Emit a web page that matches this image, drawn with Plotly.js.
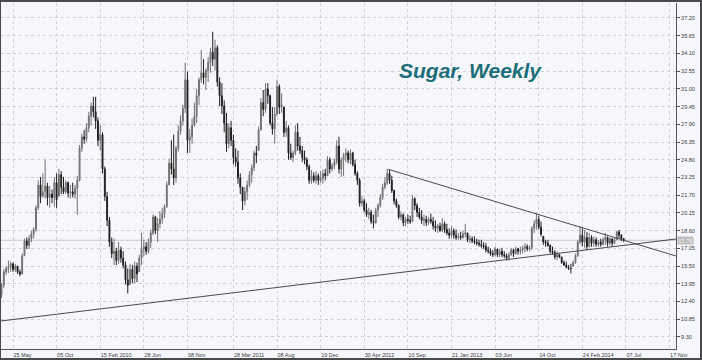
<!DOCTYPE html>
<html>
<head>
<meta charset="utf-8">
<script src="https://cdn.plot.ly/plotly-3.0.1.min.js"></script>
<style>
  html, body { margin: 0; padding: 0; background: #f6f7fd; }
  #frame { width: 699px; height: 356px; border-top: 2px solid #4a4a4a; border-bottom: 2px solid #4a4a4a; border-left: 1px solid #4a4a4a; border-right: 2px solid #4a4a4a; }
  #chart { width: 699px; height: 356px; }
</style>
</head>
<body>
<div id="frame"><div id="chart"></div></div>
<script>
// Weekly sugar prices, first bar = week of 20 Apr 2009, one bar per week
const firstWeek = '2009-04-20';

const open = [
  13.0, 13.8, 15.0, 15.3, 15.4, 15.7, 15.2, 15.5, 15.0, 14.8,
  16.4, 17.7, 17.3, 17.9, 18.3, 18.7, 20.6, 22.6, 21.6, 22.0,
  22.5, 21.5, 21.8, 21.5, 22.8, 21.6, 23.5, 22.4, 22.0, 22.8,
  21.9, 22.0, 21.8, 22.3, 23.0, 25.8, 26.8, 26.6, 27.6, 28.6,
  29.5, 29.0, 28.2, 26.5, 27.0, 24.0, 21.6, 19.5, 17.6, 16.6,
  16.8, 16.0, 16.9, 16.2, 15.6, 14.3, 13.9, 15.2, 14.4, 15.5,
  15.0, 16.2, 17.0, 17.2, 16.8, 17.6, 18.4, 19.8, 18.6, 19.2,
  19.6, 20.1, 20.7, 22.6, 24.5, 24.0, 23.2, 25.8, 27.3, 28.2,
  29.3, 31.8, 26.5, 26.8, 27.8, 28.6, 30.4, 31.8, 32.4, 32.0,
  32.6, 33.3, 34.2, 33.6, 34.6, 31.6, 30.4, 29.5, 28.0, 26.2,
  27.6, 26.5, 25.0, 24.6, 23.2, 22.4, 21.2, 22.0, 22.6, 23.5,
  24.1, 25.4, 25.6, 27.4, 29.8, 29.2, 31.0, 30.4, 28.0, 27.5,
  28.8, 31.2, 29.4, 29.4, 27.2, 27.6, 25.4, 25.0, 25.4, 27.2,
  26.0, 25.6, 25.0, 24.8, 24.2, 23.0, 23.4, 23.0, 23.4, 23.0,
  23.2, 23.6, 23.4, 24.8, 24.0, 24.3, 24.6, 26.0, 24.0, 24.8,
  25.2, 25.4, 24.8, 25.4, 24.4, 23.6, 23.0, 21.0, 21.2, 20.4,
  20.0, 20.2, 19.4, 19.3, 20.4, 20.8, 21.5, 22.4, 22.8, 23.6,
  23.0, 22.1, 21.2, 20.8, 19.8, 20.0, 19.3, 19.6, 19.5, 19.4,
  21.4, 20.8, 20.2, 19.8, 19.5, 19.6, 19.3, 19.6, 19.4, 19.0,
  18.8, 19.0, 18.6, 19.2, 18.7, 18.4, 18.2, 18.6, 18.2, 18.0,
  18.1, 18.0, 18.3, 18.4, 17.8, 17.9, 17.7, 17.6, 17.5, 17.4,
  17.3, 17.2, 16.9, 16.8, 16.6, 16.5, 17.0, 16.5, 16.8, 16.5,
  16.4, 16.2, 16.5, 16.9, 16.6, 17.0, 16.8, 16.9, 17.1, 17.2,
  17.0, 17.1, 18.8, 19.2, 19.6, 18.9, 18.1, 17.6, 17.5, 17.3,
  16.8, 16.7, 16.3, 16.5, 16.3, 15.8, 15.6, 15.4, 15.3, 15.5,
  15.8, 16.4, 17.6, 18.2, 17.6, 18.0, 17.2, 18.0, 17.5, 17.8,
  17.4, 17.6, 17.4, 17.8, 18.0, 17.5, 17.9, 17.5, 17.8, 18.5,
  18.2, 17.9
];

const high = [
  14.0, 15.2, 15.5, 16.0, 15.9, 15.8, 15.7, 15.5, 15.2, 16.6,
  17.9, 18.0, 18.2, 18.6, 18.9, 20.8, 23.0, 23.3, 23.6, 24.8,
  22.8, 22.5, 22.2, 23.3, 23.6, 24.0, 23.8, 23.3, 23.0, 22.9,
  22.6, 22.8, 22.6, 23.4, 26.1, 27.1, 27.4, 28.0, 29.0, 29.8,
  30.3, 30.3, 28.5, 27.8, 27.2, 24.2, 22.0, 19.8, 18.0, 17.9,
  17.1, 17.6, 17.2, 16.8, 15.9, 15.3, 15.7, 15.6, 15.9, 15.8,
  16.5, 18.4, 17.8, 17.6, 17.9, 18.7, 20.0, 19.9, 19.7, 20.3,
  20.6, 20.9, 22.9, 24.9, 26.5, 27.0, 26.0, 27.8, 28.7, 29.6,
  33.3, 32.5, 27.5, 28.4, 29.8, 31.0, 32.0, 34.4, 33.6, 32.8,
  33.8, 34.6, 36.0, 35.3, 34.8, 32.0, 31.5, 30.0, 28.9, 28.0,
  28.2, 27.0, 25.8, 25.6, 23.6, 22.4, 22.4, 23.0, 23.8, 24.4,
  25.6, 26.0, 27.7, 30.2, 30.9, 31.5, 31.5, 30.5, 29.4, 29.4,
  31.8, 31.4, 30.6, 29.4, 28.2, 27.8, 26.2, 25.6, 27.8, 28.0,
  26.8, 26.0, 25.6, 25.0, 24.4, 23.9, 23.7, 23.8, 23.6, 23.8,
  23.9, 24.0, 25.1, 25.0, 24.5, 24.9, 26.5, 26.8, 25.0, 25.4,
  25.8, 25.6, 25.7, 25.5, 24.8, 23.8, 23.2, 21.6, 21.4, 21.0,
  20.6, 20.4, 20.0, 20.6, 21.0, 21.8, 22.7, 23.3, 24.0, 23.9,
  23.4, 22.2, 21.4, 20.9, 20.3, 20.1, 19.8, 20.0, 19.9, 21.7,
  21.5, 21.0, 20.6, 20.4, 20.0, 19.9, 19.8, 20.1, 19.8, 19.5,
  19.2, 19.3, 19.7, 19.4, 19.2, 18.8, 19.0, 18.8, 18.7, 18.4,
  18.5, 18.6, 19.2, 18.4, 18.2, 18.1, 18.1, 17.9, 17.8, 17.8,
  17.6, 17.5, 17.2, 17.05, 16.9, 17.2, 17.0, 17.0, 17.1, 16.8,
  16.6, 16.7, 17.1, 17.0, 17.2, 17.1, 17.2, 17.3, 17.5, 17.4,
  17.3, 19.0, 19.5, 20.1, 19.9, 19.4, 18.1, 17.8, 17.8, 17.4,
  17.2, 16.9, 16.8, 16.6, 16.3, 16.0, 15.9, 15.6, 15.7, 16.0,
  16.6, 17.8, 19.0, 18.8, 18.66, 18.5, 18.4, 18.2, 18.1, 18.0,
  17.8, 17.9, 18.0, 18.4, 18.1, 18.0, 17.9, 18.0, 18.6, 18.66,
  18.3, 17.95
];

const low = [
  12.7, 13.6, 14.7, 14.9, 15.0, 15.0, 15.0, 14.8, 14.6, 14.8,
  16.4, 17.0, 17.0, 17.6, 17.9, 18.5, 20.4, 21.0, 21.5, 21.4,
  20.8, 20.6, 21.0, 20.7, 20.6, 21.6, 21.8, 21.8, 21.8, 21.5,
  21.4, 21.5, 21.4, 20.0, 22.9, 25.5, 26.2, 26.4, 27.2, 27.8,
  28.5, 27.5, 26.0, 25.6, 23.6, 21.2, 19.0, 17.2, 16.2, 15.6,
  15.6, 15.7, 15.8, 15.3, 13.9, 13.1, 13.9, 14.0, 14.0, 14.1,
  15.0, 15.6, 16.4, 16.5, 16.6, 17.1, 18.2, 18.3, 17.6, 18.8,
  19.2, 19.7, 20.6, 22.6, 23.5, 22.6, 22.8, 25.5, 27.0, 27.8,
  28.9, 25.4, 25.4, 26.2, 27.7, 28.0, 29.6, 31.5, 31.4, 30.9,
  31.6, 32.4, 33.0, 32.6, 31.2, 29.5, 28.8, 27.2, 25.5, 25.8,
  26.0, 24.4, 24.2, 22.7, 21.8, 20.4, 20.8, 21.3, 22.4, 22.8,
  23.8, 24.5, 25.6, 27.4, 28.6, 28.9, 29.7, 27.8, 27.0, 26.2,
  28.6, 28.8, 28.9, 26.8, 26.8, 24.8, 24.8, 24.6, 25.2, 25.6,
  25.3, 24.6, 24.4, 23.9, 22.7, 22.7, 22.8, 22.7, 22.6, 22.8,
  22.7, 23.0, 23.4, 23.6, 23.8, 24.0, 24.4, 23.6, 23.3, 23.4,
  24.6, 24.5, 24.4, 24.2, 23.4, 22.6, 20.7, 20.7, 20.2, 19.8,
  19.6, 19.2, 18.8, 19.2, 19.8, 20.6, 21.3, 22.2, 22.6, 22.7,
  21.9, 20.9, 20.6, 19.6, 19.5, 19.0, 19.0, 19.2, 19.2, 19.4,
  20.4, 19.8, 19.6, 19.2, 19.0, 19.0, 19.1, 19.2, 18.7, 18.5,
  18.4, 18.5, 18.5, 18.4, 18.2, 17.9, 18.0, 17.9, 17.8, 17.8,
  17.8, 17.9, 18.0, 17.6, 17.5, 17.5, 17.4, 17.3, 17.2, 17.1,
  17.0, 16.7, 16.6, 16.4, 16.3, 16.4, 16.3, 16.3, 16.3, 16.2,
  16.0, 16.0, 16.4, 16.3, 16.5, 16.5, 16.5, 16.6, 16.7, 16.8,
  16.8, 16.9, 18.4, 18.7, 18.7, 18.1, 17.35, 17.2, 17.2, 16.6,
  16.5, 16.1, 16.0, 16.2, 15.7, 15.5, 15.3, 15.16, 14.87, 15.45,
  15.7, 16.3, 17.4, 17.2, 17.1, 16.9, 17.2, 17.2, 17.2, 17.2,
  17.2, 17.2, 17.3, 17.35, 17.2, 17.3, 17.2, 17.4, 17.8, 17.9,
  17.7, 17.6
];

const close = [
  13.8, 15.0, 15.3, 15.4, 15.7, 15.2, 15.5, 15.0, 14.8, 16.4,
  17.7, 17.3, 17.9, 18.3, 18.7, 20.6, 22.6, 21.6, 22.0, 22.5,
  21.5, 21.8, 21.5, 22.8, 21.3, 23.5, 22.4, 22.0, 22.8, 21.9,
  22.0, 21.8, 22.3, 23.0, 25.8, 26.8, 26.6, 27.6, 28.6, 29.5,
  29.0, 28.2, 26.5, 27.0, 24.0, 21.6, 19.5, 17.6, 16.6, 16.8,
  16.0, 16.9, 16.2, 15.6, 14.3, 13.8, 15.2, 14.4, 15.5, 14.8,
  16.2, 17.0, 17.2, 16.8, 17.6, 18.4, 19.8, 18.6, 19.2, 19.6,
  20.1, 20.7, 22.6, 24.5, 24.0, 23.2, 25.8, 27.3, 28.2, 29.3,
  31.8, 26.5, 26.8, 27.8, 28.6, 30.4, 31.8, 32.4, 32.0, 32.6,
  33.3, 34.2, 33.6, 34.6, 31.6, 30.4, 29.5, 28.0, 26.2, 27.6,
  26.5, 25.0, 24.6, 23.2, 22.4, 21.2, 22.0, 22.6, 23.5, 24.1,
  25.4, 25.2, 27.4, 29.8, 29.2, 31.0, 30.4, 28.0, 27.5, 28.8,
  31.2, 29.4, 29.6, 27.2, 27.6, 25.4, 25.0, 25.4, 27.2, 26.0,
  25.6, 25.0, 24.8, 24.2, 23.0, 23.4, 23.0, 23.4, 23.0, 23.2,
  23.6, 23.4, 24.8, 24.0, 24.3, 24.6, 26.0, 24.0, 24.8, 25.2,
  25.4, 24.8, 25.4, 24.4, 23.6, 23.0, 21.0, 21.2, 20.4, 20.0,
  20.2, 19.4, 19.3, 20.4, 20.8, 21.5, 22.4, 22.8, 23.6, 23.0,
  22.1, 21.2, 20.8, 19.8, 20.0, 19.3, 19.6, 19.5, 19.4, 21.4,
  20.8, 20.2, 19.8, 19.5, 19.6, 19.3, 19.6, 19.4, 19.0, 18.8,
  19.0, 18.6, 19.2, 18.7, 18.4, 18.2, 18.6, 18.2, 18.0, 18.1,
  18.0, 18.3, 18.4, 17.8, 17.9, 17.7, 17.6, 17.5, 17.4, 17.3,
  17.2, 16.9, 16.8, 16.6, 16.5, 17.0, 16.5, 16.8, 16.5, 16.4,
  16.2, 16.5, 16.9, 16.6, 17.0, 16.8, 16.9, 17.1, 17.2, 17.0,
  17.1, 18.8, 19.2, 19.6, 18.9, 18.3, 17.6, 17.5, 17.3, 16.8,
  16.7, 16.3, 16.5, 16.3, 15.8, 15.6, 15.4, 15.3, 15.3, 15.8,
  16.4, 17.6, 18.2, 17.6, 18.0, 17.2, 18.0, 17.5, 17.8, 17.4,
  17.6, 17.4, 17.8, 18.0, 17.5, 17.9, 17.5, 17.8, 18.5, 18.2,
  17.9, 17.76
];

const lastPrice = 17.76;

const tickDates = ['2009-05-25','2009-10-05','2010-02-15','2010-06-28','2010-11-08','2011-03-28',
  '2011-08-08','2011-12-19','2012-04-30','2012-09-10','2013-01-21','2013-06-03',
  '2013-10-14','2014-02-24','2014-07-07','2014-11-17'];
const tickLabels = ['25 May','05 Oct','15 Feb 2010','28 Jun','08 Nov','28 Mar 2011',
  '08 Aug','19 Dec','30 Apr 2012','10 Sep','21 Jan 2013','03 Jun',
  '14 Oct','24 Feb 2014','07 Jul','17 Nov'];

// trend lines (date, price) end points
const supportLine = [['2009-04-18', 10.70], ['2014-12-07', 17.87]];
const resistLine = [['2012-07-12', 23.97], ['2014-12-07', 16.38]];

// weekly dates
const dates = [];
const start = new Date(firstWeek + 'T00:00:00Z');
for (let i = 0; i < close.length; i++) {
  const d = new Date(start.getTime() + i * 7 * 86400000);
  dates.push(d.toISOString().slice(0, 10));
}

const trace = {
  type: 'candlestick',
  x: dates, open: open, high: high, low: low, close: close,
  increasing: { line: { color: '#707070', width: 1 }, fillcolor: '#8e8e8e' },
  decreasing: { line: { color: '#1e1e1e', width: 1 }, fillcolor: '#1e1e1e' },
  whiskerwidth: 0,
  hoverinfo: 'skip',
  showlegend: false
};

const tickFont = { family: 'Liberation Sans, Arial, sans-serif', size: 5.5, color: '#3a3a3a' };

const layout = {
  width: 699, height: 356,
  margin: { l: 0, r: 24, t: 1, b: 9, pad: 0 },
  paper_bgcolor: '#f6f7fd',
  plot_bgcolor: '#f6f7fd',
  showlegend: false,
  boxgap: 0.45,
  xaxis: {
    type: 'date',
    range: ['2009-04-18 10:00', '2014-12-06 14:00'],
    rangeslider: { visible: false },
    tickmode: 'array', tickvals: tickDates, ticktext: tickLabels,
    ticklabelposition: 'outside right',
    ticks: '', ticklen: 0,
    tickfont: tickFont,
    showgrid: true, gridcolor: '#cfd0d6', griddash: 'dot', gridwidth: 1,
    showline: true, linecolor: '#555555', linewidth: 1,
    zeroline: false, fixedrange: true
  },
  yaxis: {
    side: 'right',
    range: [8.25, 38.51],
    tickmode: 'linear', tick0: 9.3, dtick: 1.55, tickformat: '.2f',
    ticks: 'outside', ticklen: 3, tickcolor: '#555555', tickwidth: 1,
    tickfont: tickFont,
    showgrid: true, gridcolor: '#cfd0d6', griddash: 'dot', gridwidth: 1,
    showline: true, linecolor: '#555555', linewidth: 1,
    zeroline: false, fixedrange: true
  },
  shapes: [
    { type: 'line', xref: 'paper', yref: 'y', x0: 0, x1: 1, y0: lastPrice, y1: lastPrice,
      line: { color: '#c6c6c6', width: 1 }, layer: 'below' },
    { type: 'line', xref: 'x', yref: 'y', x0: supportLine[0][0], y0: supportLine[0][1],
      x1: supportLine[1][0], y1: supportLine[1][1], line: { color: '#4a4a4a', width: 1 } },
    { type: 'line', xref: 'x', yref: 'y', x0: resistLine[0][0], y0: resistLine[0][1],
      x1: resistLine[1][0], y1: resistLine[1][1], line: { color: '#4a4a4a', width: 1 } }
  ],
  annotations: [
    { xref: 'paper', yref: 'paper', x: 0.586, y: 0.806, xanchor: 'left', yanchor: 'middle',
      text: 'Sugar, Weekly', showarrow: false,
      font: { family: 'Liberation Sans, Arial, sans-serif', size: 21, color: '#1c6e78', weight: 'bold', style: 'italic' } },
    { xref: 'paper', yref: 'y', x: 1, y: lastPrice, xanchor: 'left', yanchor: 'middle',
      text: lastPrice.toFixed(2), showarrow: false, xshift: 1,
      bgcolor: '#bdbdbd', borderpad: 0.5,
      font: { family: 'Liberation Sans, Arial, sans-serif', size: 5.5, color: '#f4f4f4' } }
  ]
};

Plotly.newPlot('chart', [trace], layout, { staticPlot: true, displayModeBar: false });
</script>
</body>
</html>
